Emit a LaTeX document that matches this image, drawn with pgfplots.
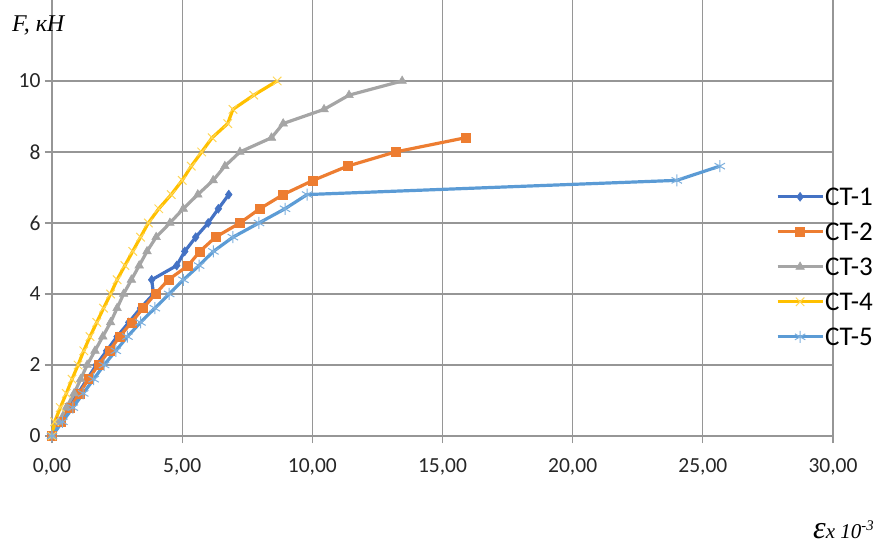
\documentclass[border=0pt]{standalone}
\usepackage{pgfplots}
\pgfplotsset{compat=1.18}
\usepackage{fontspec}
\setmainfont{Carlito}
\newfontfamily\lserif{Liberation Serif}
\definecolor{gridc}{RGB}{150,150,150}
\definecolor{c1}{RGB}{68,114,196}
\definecolor{c2}{RGB}{237,125,49}
\definecolor{c3}{RGB}{165,165,165}
\definecolor{c4}{RGB}{255,192,0}
\definecolor{c5}{RGB}{91,155,213}
\begin{document}
\begin{tikzpicture}
\path[use as bounding box] (-52pt,-113pt) rectangle (836pt,436pt);
\begin{axis}[
  at={(0pt,0pt)}, anchor=south west,
  scale only axis, width=781pt, height=436pt,
  xmin=0, xmax=30, ymin=0, ymax=12.28,
  axis lines=left, axis line style={-, draw=gridc, line width=1.2pt},
  xtick={0,5,10,15,20,25,30},
  xticklabels={{0,00},{5,00},{10,00},{15,00},{20,00},{25,00},{30,00}},
  ytick={0,2,4,6,8,10},
  grid=major, grid style={gridc, line width=1.2pt},
  tick align=outside, major tick length=7pt, tick style={gridc, line width=1.2pt},
  ticklabel style={font=\fontsize{21.5}{24}\selectfont, text=black!85},
  xticklabel style={yshift=-12pt},
  yticklabel style={xshift=-1pt},
  /pgf/number format/assume math mode=true,
  clip=false,
  legend style={draw=none, fill=none, at={(0.927,0.388)}, anchor=west,
    inner sep=0pt, outer sep=0pt, font=\fontsize{27}{30}\selectfont,
    row sep=17.5pt, cells={anchor=west},
    nodes={inner xsep=1pt, inner ysep=0pt, text height=17.5pt, text depth=0pt}},
  legend image code/.code={\draw[mark repeat=2,mark phase=2] plot coordinates {(0pt,0pt) (22.5pt,0pt) (45pt,0pt)};},
]
\addplot[c1, line width=3.2pt, mark=diamond*, mark size=4.5pt, mark options={solid, line width=0.5pt, fill=c1}] coordinates {
(0,0)(0.3,0.4)(0.65,0.8)(1.0,1.2)(1.35,1.6)(1.7,2.0)(2.1,2.4)(2.5,2.8)(2.95,3.2)(3.4,3.6)(3.9,4.0)(3.83,4.4)(4.79,4.8)(5.1,5.2)(5.52,5.6)(6.0,6.0)(6.39,6.4)(6.79,6.8)};
\addlegendentry{CT-1}
\addplot[c2, line width=3.2pt, mark=square*, mark size=4.5pt, mark options={solid, line width=0.5pt, fill=c2}] coordinates {
(0,0)(0.35,0.4)(0.7,0.8)(1.05,1.2)(1.4,1.6)(1.78,2.0)(2.2,2.4)(2.6,2.8)(3.05,3.2)(3.5,3.6)(3.97,4.0)(4.47,4.4)(5.23,4.8)(5.68,5.2)(6.28,5.6)(7.22,6.0)(7.98,6.4)(8.88,6.8)(10.03,7.2)(11.35,7.6)(13.19,8.0)(15.88,8.4)};
\addlegendentry{CT-2}
\addplot[c3, line width=3.2pt, mark=triangle*, mark size=5pt, mark options={solid, line width=0.5pt, fill=c3}] coordinates {
(0,0)(0.25,0.4)(0.55,0.8)(0.85,1.2)(1.1,1.6)(1.35,2.0)(1.65,2.4)(1.95,2.8)(2.25,3.2)(2.5,3.6)(2.75,4.0)(3.05,4.4)(3.35,4.8)(3.65,5.2)(4.0,5.6)(4.53,6.0)(5.04,6.4)(5.6,6.8)(6.19,7.2)(6.64,7.6)(7.22,8.0)(8.43,8.4)(8.88,8.8)(10.45,9.2)(11.41,9.6)(13.45,10.0)};
\addlegendentry{CT-3}
\addplot[c4, line width=3.2pt, mark=x, mark size=6pt, mark options={solid, line width=1pt, draw=c4!65!white}] coordinates {
(0,0)(0.1,0.4)(0.32,0.8)(0.55,1.2)(0.77,1.6)(1.0,2.0)(1.22,2.4)(1.46,2.8)(1.72,3.2)(1.98,3.6)(2.25,4.0)(2.5,4.4)(2.8,4.8)(3.1,5.2)(3.4,5.6)(3.7,6.0)(4.1,6.4)(4.58,6.8)(5.0,7.2)(5.35,7.6)(5.75,8.0)(6.15,8.4)(6.75,8.8)(6.95,9.2)(7.75,9.6)(8.65,10.0)};
\addlegendentry{CT-4}
\addplot[c5, line width=3.2pt, mark=asterisk, mark size=6pt, mark options={solid, line width=1pt, draw=c5!80!white}] coordinates {
(0,0)(0.4,0.4)(0.8,0.8)(1.2,1.2)(1.6,1.6)(2.0,2.0)(2.45,2.4)(2.9,2.8)(3.4,3.2)(3.95,3.6)(4.5,4.0)(5.05,4.4)(5.65,4.8)(6.2,5.2)(6.95,5.6)(7.95,6.0)(8.95,6.4)(9.8,6.8)(24.0,7.2)(25.65,7.6)};
\addlegendentry{CT-5}
\end{axis}
\node[anchor=base west, inner sep=0pt, font=\lserif\itshape\fontsize{24}{28}\selectfont] at (-40pt,404pt) {F, кН};
\node[anchor=base west, inner sep=0pt, font=\lserif\itshape] at (761pt,-102pt) {{\fontsize{32}{34}\selectfont ε}{\fontsize{21}{23}\selectfont x 10\textsuperscript{-3}}};
\end{tikzpicture}
\end{document}
